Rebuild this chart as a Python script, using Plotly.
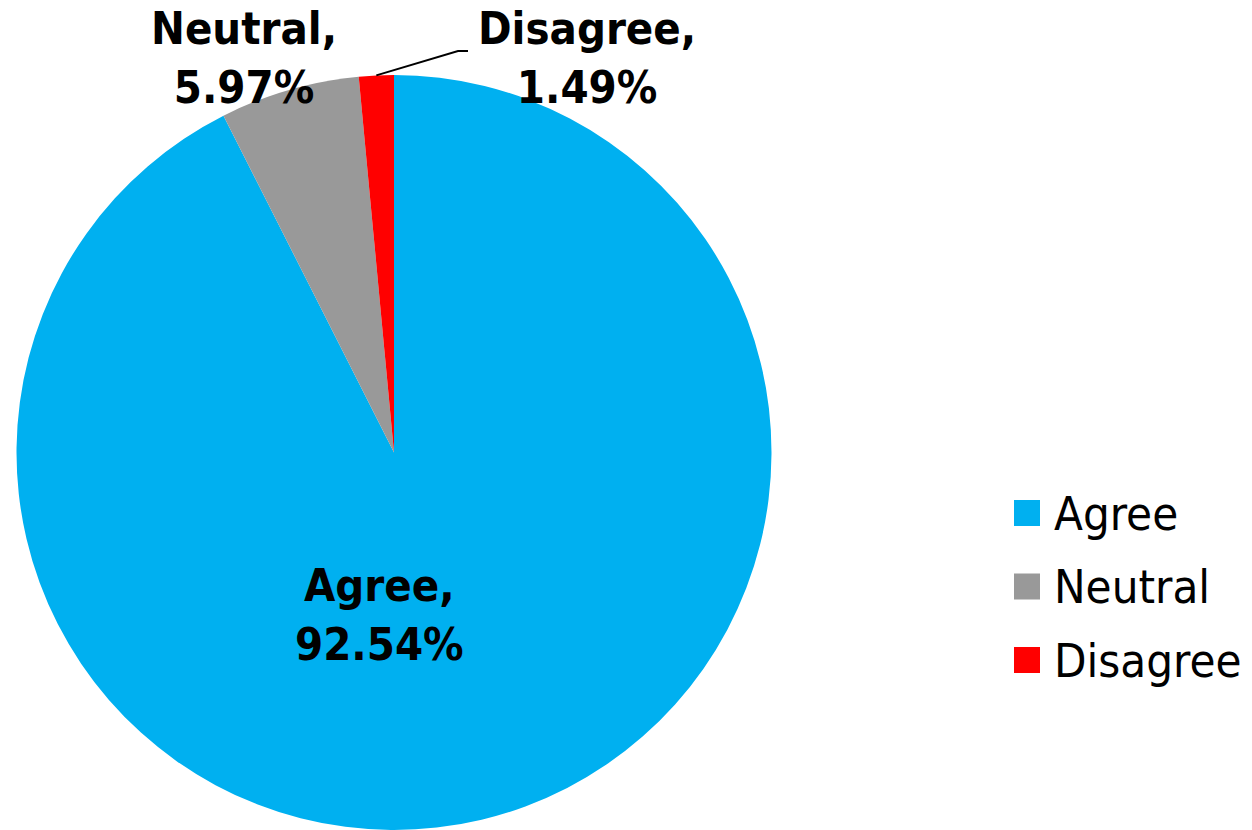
import math
import plotly.graph_objects as go

categories = ["Agree", "Neutral", "Disagree"]
values = [92.54, 5.97, 1.49]
colors = ["#00B0F0", "#999999", "#FF0000"]

W, H = 1252, 830


def px(x, y):
    """window pixel -> paper coords"""
    return x / W, 1 - y / H


cx, cy, R = 394, 453, 378  # pie geometry in window px
fig = go.Figure(go.Pie(
    labels=categories, values=values, sort=False, direction="clockwise", rotation=0,
    marker=dict(colors=colors, line=dict(width=0)),
    textinfo="none", hoverinfo="label+percent", showlegend=False,
    domain=dict(x=[(cx - R) / W, (cx + R) / W],
                y=[max(0, 1 - (cy + R) / H), 1 - (cy - R) / H]),
))

label_font = dict(family="DejaVu Sans Condensed, DejaVu Sans", size=45, color="black")
label_pos = {"Agree": (379, 615), "Neutral": (244, 58), "Disagree": (587, 58)}
for cat, val in zip(categories, values):
    x, y = px(*label_pos[cat])
    fig.add_annotation(text=f"<b>{cat},<br>{val:.2f}%</b>", x=x, y=y,
                       xref="paper", yref="paper", showarrow=False,
                       xanchor="center", yanchor="middle", font=label_font)

# leader line for Disagree from slice edge midpoint
total = sum(values)
start = sum(values[:2]) / total * 360
mid = math.radians(start + values[2] / total * 360 / 2)
ex, ey = px(cx + R * math.sin(mid), cy - R * math.cos(mid))
bx, by = px(458, 51)
tx, ty = px(468, 51)
fig.add_shape(type="path", xref="paper", yref="paper",
              path=f"M {ex},{ey} L {bx},{by} L {tx},{ty}",
              line=dict(color="black", width=2))

# legend
leg_font = dict(family="DejaVu Sans Condensed, DejaVu Sans", size=47, color="black")
for i, (cat, col) in enumerate(zip(categories, colors)):
    yc = 513 + i * 73.5
    x0, y0 = px(1014, yc - 13)
    x1, y1 = px(1040, yc + 13)
    fig.add_shape(type="rect", xref="paper", yref="paper",
                  x0=x0, x1=x1, y0=y0, y1=y1, fillcolor=col, line=dict(width=0))
    lx, ly = px(1052, yc)
    fig.add_annotation(text=cat, x=lx, y=ly, xref="paper", yref="paper",
                       showarrow=False, xanchor="left", yanchor="middle", font=leg_font)

fig.update_layout(width=W, height=H, margin=dict(l=0, r=0, t=0, b=0),
                  paper_bgcolor="white", plot_bgcolor="white")
fig.write_html("out.html", config={"displayModeBar": False},
               post_script="document.body.style.margin='0';")
